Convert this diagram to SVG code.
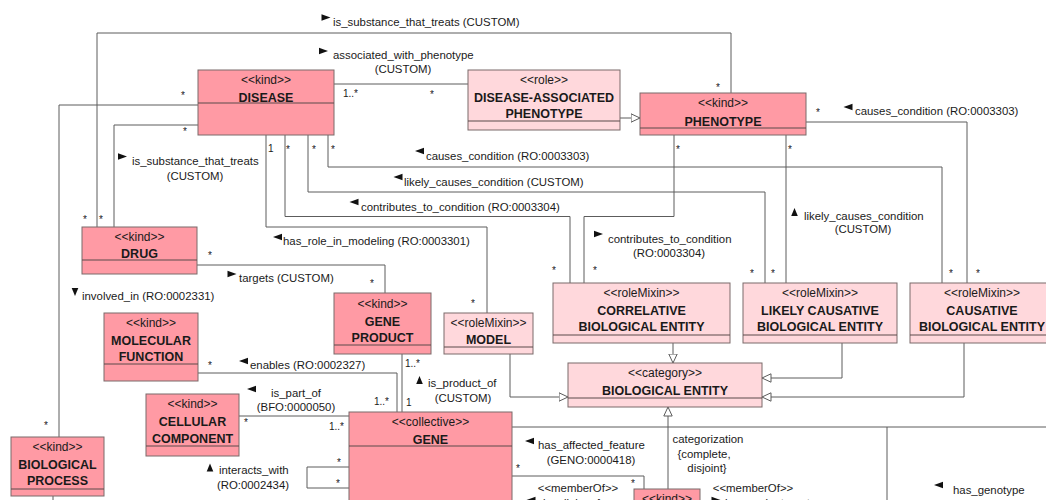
<svg xmlns="http://www.w3.org/2000/svg" xmlns:xlink="http://www.w3.org/1999/xlink" width="1046" height="500" viewBox="0 0 1046 500">
  <style>
    .kind { fill: #ff9aa4; stroke: #7a6a6a; stroke-width: 1; }
    .mix { fill: #ffd8dc; stroke: #7a6a6a; stroke-width: 1; }
    .div { stroke: #5a4a4a; stroke-width: 1; }
    .ln { fill: none; stroke: #5c5c5c; stroke-width: 1; }
    .gen { fill: none; stroke: #5c5c5c; stroke-width: 1; marker-end: url(#hollow); }
    text { font-family: "Liberation Sans", Arial, sans-serif; fill: #1a1a1a; }
    .ster { font-size: 12px; text-anchor: middle; }
    .name { font-size: 12.5px; font-weight: bold; text-anchor: middle; }
    .lbl { font-size: 11.4px; }
    .lblc { font-size: 11.4px; text-anchor: middle; }
    .mul { font-size: 10px; }
    .tri { fill: #111; }
  </style>
  <defs>
    <marker id="hollow" viewBox="0 0 10 10" refX="9.5" refY="5" markerWidth="10" markerHeight="10" markerUnits="userSpaceOnUse" orient="auto">
      <path d="M0.5,0.8 L9.5,5 L0.5,9.2 Z" fill="#fff" stroke="#5c5c5c" stroke-width="1"/>
    </marker>
    <path id="tR" d="M-4.5,-3.3 L4.5,0 L-4.5,3.3 Z"/>
    <path id="tL" d="M4.5,-3.3 L-4.5,0 L4.5,3.3 Z"/>
    <path id="tU" d="M-3.3,4 L0,-4 L3.3,4 Z"/>
    <path id="tD" d="M-3.3,-4 L0,4 L3.3,-4 Z"/>
  </defs>

  <rect width="1046" height="500" fill="#ffffff"/>

  <!-- connectors -->
  <g id="connectors">
    <!-- is_substance_that_treats: DRUG to PHENOTYPE -->
    <polyline class="ln" points="97,227 97,33 731,33 731,93"/>
    <!-- is_substance_that_treats: DRUG to DISEASE -->
    <polyline class="ln" points="198,125 114,125 114,227"/>
    <!-- involved_in -->
    <polyline class="ln" points="198,105 59,105 59,437"/>
    <!-- associated_with_phenotype -->
    <line class="ln" x1="334" y1="84" x2="468" y2="84"/>
    <!-- DISEASE bottom fan-out -->
    <polyline class="ln" points="328,135 328,167 942,167 942,283"/>
    <polyline class="ln" points="308,135 308,192 765,192 765,283"/>
    <polyline class="ln" points="285,135 285,216.5 570,216.5 570,283"/>
    <polyline class="ln" points="266,135 266,227 487,227 487,313"/>
    <!-- PHENOTYPE relations -->
    <polyline class="ln" points="806,122 967,122 967,283"/>
    <line class="ln" x1="786" y1="135" x2="786" y2="283"/>
    <polyline class="ln" points="674,135 674,216.5 584,216.5 584,283"/>
    <!-- targets -->
    <polyline class="ln" points="197,265 385,265 385,293"/>
    <!-- enables -->
    <polyline class="ln" points="198,373 397,373 397,412"/>
    <!-- is_product_of -->
    <line class="ln" x1="402" y1="354" x2="402" y2="412"/>
    <!-- is_part_of -->
    <line class="ln" x1="239" y1="416" x2="349" y2="416"/>
    <!-- interacts_with self association -->
    <polyline class="ln" points="349,467 307,467 307,488 349,488"/>
    <!-- has_affected_feature -->
    <polyline class="ln" points="512,476 644,476 644,489"/>
    <!-- BIOLOGICAL PROCESS downward link -->
    <line class="ln" x1="53" y1="496" x2="53" y2="500"/>

    <!-- generalizations -->
    <polyline class="gen" points="620,118 640,118"/>
    <polyline class="gen" points="510,354 510,397 568,397"/>
    <polyline class="gen" points="673,343 673,363"/>
    <polyline class="gen" points="842,343 842,378 762,378"/>
    <polyline class="gen" points="964,343 964,397 762,397"/>
    <polyline class="gen" points="668,489 668,407"/>
    <line class="ln" x1="512" y1="427" x2="1046" y2="427"/>
    <line class="ln" x1="887" y1="427" x2="887" y2="500"/>

    <!-- association labels -->
    <use href="#tR" class="tri" x="326" y="17.5"/>
    <text class="lbl" x="333" y="26">is_substance_that_treats (CUSTOM)</text>

    <use href="#tR" class="tri" x="323.5" y="51"/>
    <text class="lbl" x="333" y="59">associated_with_phenotype</text>
    <text class="lblc" x="403" y="73">(CUSTOM)</text>

    <use href="#tL" class="tri" x="419.5" y="151"/>
    <text class="lbl" x="426" y="160">causes_condition (RO:0003303)</text>

    <use href="#tL" class="tri" x="398" y="177"/>
    <text class="lbl" x="404" y="186">likely_causes_condition (CUSTOM)</text>

    <use href="#tL" class="tri" x="354" y="202"/>
    <text class="lbl" x="361" y="211">contributes_to_condition (RO:0003304)</text>

    <use href="#tL" class="tri" x="277.5" y="237"/>
    <text class="lbl" x="283" y="245">has_role_in_modeling (RO:0003301)</text>

    <use href="#tR" class="tri" x="122.5" y="156.5"/>
    <text class="lbl" x="132" y="165">is_substance_that_treats</text>
    <text class="lblc" x="195" y="180">(CUSTOM)</text>

    <use href="#tD" class="tri" x="75" y="292"/>
    <text class="lbl" x="82" y="300">involved_in (RO:0002331)</text>

    <use href="#tR" class="tri" x="232" y="274"/>
    <text class="lbl" x="239" y="282">targets (CUSTOM)</text>

    <use href="#tL" class="tri" x="243.5" y="361"/>
    <text class="lbl" x="250" y="369">enables (RO:0002327)</text>

    <use href="#tL" class="tri" x="251.5" y="389"/>
    <text class="lblc" x="296" y="397">is_part_of</text>
    <text class="lblc" x="296" y="411">(BFO:0000050)</text>

    <use href="#tU" class="tri" x="210" y="467.5"/>
    <text class="lbl" x="219" y="474">interacts_with</text>
    <text class="lblc" x="253" y="489">(RO:0002434)</text>

    <use href="#tU" class="tri" x="419.5" y="380"/>
    <text class="lbl" x="428" y="387">is_product_of</text>
    <text class="lblc" x="463" y="402">(CUSTOM)</text>

    <use href="#tR" class="tri" x="598.5" y="234"/>
    <text class="lbl" x="608" y="243">contributes_to_condition</text>
    <text class="lblc" x="669" y="257">(RO:0003304)</text>

    <use href="#tU" class="tri" x="794.5" y="212"/>
    <text class="lbl" x="804" y="220">likely_causes_condition</text>
    <text class="lblc" x="863" y="233">(CUSTOM)</text>

    <use href="#tL" class="tri" x="848" y="107"/>
    <text class="lbl" x="855" y="115">causes_condition (RO:0003303)</text>

    <use href="#tL" class="tri" x="529.5" y="441"/>
    <text class="lbl" x="538" y="449">has_affected_feature</text>
    <text class="lblc" x="591" y="464">(GENO:0000418)</text>

    <text class="lblc" x="708" y="443">categorization</text>
    <text class="lblc" x="704" y="458">{complete,</text>
    <text class="lblc" x="707" y="472">disjoint}</text>

    <text class="lblc" x="578" y="492">&lt;&lt;memberOf&gt;&gt;</text>
    <use href="#tL" class="tri" x="531" y="500"/>
    <text class="lbl" x="543" y="507">is_allele_of</text>

    <text class="lblc" x="753" y="492">&lt;&lt;memberOf&gt;&gt;</text>
    <use href="#tR" class="tri" x="716" y="500"/>
    <text class="lbl" x="725" y="507">has_variant_part</text>

    <use href="#tL" class="tri" x="938.5" y="485"/>
    <text class="lbl" x="953" y="494">has_genotype</text>
    <text class="lblc" x="988" y="508">(GENO:0000222)</text>

    <!-- multiplicities -->
    <text class="mul" x="716" y="91">*</text>
    <text class="mul" x="83" y="223">*</text>
    <text class="mul" x="99" y="223">*</text>
    <text class="mul" x="183" y="135">*</text>
    <text class="mul" x="181" y="99">*</text>
    <text class="mul" x="44" y="429">*</text>
    <text class="mul" x="343" y="97">1..*</text>
    <text class="mul" x="430" y="98">*</text>
    <text class="mul" x="268" y="152">1</text>
    <text class="mul" x="286" y="153">*</text>
    <text class="mul" x="312" y="153">*</text>
    <text class="mul" x="331" y="153">*</text>
    <text class="mul" x="949" y="277">*</text>
    <text class="mul" x="976" y="277">*</text>
    <text class="mul" x="816" y="116">*</text>
    <text class="mul" x="750" y="277">*</text>
    <text class="mul" x="771" y="277">*</text>
    <text class="mul" x="788" y="153">*</text>
    <text class="mul" x="552" y="274">*</text>
    <text class="mul" x="593" y="274">*</text>
    <text class="mul" x="676" y="153">*</text>
    <text class="mul" x="471" y="307">*</text>
    <text class="mul" x="208" y="259">*</text>
    <text class="mul" x="370" y="287">*</text>
    <text class="mul" x="208" y="369">*</text>
    <text class="mul" x="374" y="405">1..*</text>
    <text class="mul" x="405" y="367">1..*</text>
    <text class="mul" x="406" y="406">1</text>
    <text class="mul" x="244" y="426">*</text>
    <text class="mul" x="329" y="430">1..*</text>
    <text class="mul" x="337" y="466">*</text>
    <text class="mul" x="336" y="487">*</text>
    <text class="mul" x="516" y="472">*</text>
    <text class="mul" x="631" y="487">*</text>
  </g>

  <!-- classes -->
  <g id="disease">
    <rect class="kind" x="198" y="70" width="136" height="65"/>
    <line class="div" x1="198" y1="103" x2="334" y2="103"/>
    <text class="ster" x="266" y="83.5">&lt;&lt;kind&gt;&gt;</text>
    <text class="name" x="266" y="101.5">DISEASE</text>
  </g>

  <g id="disease-associated-phenotype">
    <rect class="mix" x="468" y="70" width="152" height="60"/>
    <line class="div" x1="468" y1="121" x2="620" y2="121"/>
    <text class="ster" x="544" y="84">&lt;&lt;role&gt;&gt;</text>
    <text class="name" x="544" y="101.5">DISEASE-ASSOCIATED</text>
    <text class="name" x="544" y="118">PHENOTYPE</text>
  </g>

  <g id="phenotype">
    <rect class="kind" x="640" y="93" width="166" height="42"/>
    <line class="div" x1="640" y1="128" x2="806" y2="128"/>
    <text class="ster" x="723" y="107">&lt;&lt;kind&gt;&gt;</text>
    <text class="name" x="723" y="125.5">PHENOTYPE</text>
  </g>

  <g id="drug">
    <rect class="kind" x="82" y="227" width="115" height="47"/>
    <line class="div" x1="82" y1="260" x2="197" y2="260"/>
    <text class="ster" x="139.5" y="240.5">&lt;&lt;kind&gt;&gt;</text>
    <text class="name" x="139.5" y="258">DRUG</text>
  </g>

  <g id="molecular-function">
    <rect class="kind" x="104" y="313" width="94" height="68"/>
    <line class="div" x1="104" y1="364" x2="198" y2="364"/>
    <text class="ster" x="151" y="327">&lt;&lt;kind&gt;&gt;</text>
    <text class="name" x="151" y="344.5">MOLECULAR</text>
    <text class="name" x="151" y="361">FUNCTION</text>
  </g>

  <g id="cellular-component">
    <rect class="kind" x="146" y="394" width="93" height="62"/>
    <line class="div" x1="146" y1="446" x2="239" y2="446"/>
    <text class="ster" x="192.5" y="408">&lt;&lt;kind&gt;&gt;</text>
    <text class="name" x="192.5" y="426">CELLULAR</text>
    <text class="name" x="192.5" y="442.5">COMPONENT</text>
  </g>

  <g id="biological-process">
    <rect class="kind" x="11" y="437" width="93" height="59"/>
    <line class="div" x1="11" y1="489" x2="104" y2="489"/>
    <text class="ster" x="57.5" y="451">&lt;&lt;kind&gt;&gt;</text>
    <text class="name" x="57.5" y="469">BIOLOGICAL</text>
    <text class="name" x="57.5" y="485">PROCESS</text>
  </g>

  <g id="gene-product">
    <rect class="kind" x="334" y="293" width="97" height="61"/>
    <line class="div" x1="334" y1="345" x2="431" y2="345"/>
    <text class="ster" x="382.5" y="307.5">&lt;&lt;kind&gt;&gt;</text>
    <text class="name" x="382.5" y="325.5">GENE</text>
    <text class="name" x="382.5" y="342">PRODUCT</text>
  </g>

  <g id="model">
    <rect class="mix" x="444" y="313" width="89" height="41"/>
    <line class="div" x1="444" y1="347" x2="533" y2="347"/>
    <text class="ster" x="488.5" y="327">&lt;&lt;roleMixin&gt;&gt;</text>
    <text class="name" x="488.5" y="343.5">MODEL</text>
  </g>

  <g id="correlative-biological-entity">
    <rect class="mix" x="553" y="283" width="177" height="60"/>
    <line class="div" x1="553" y1="335" x2="730" y2="335"/>
    <text class="ster" x="641.5" y="297">&lt;&lt;roleMixin&gt;&gt;</text>
    <text class="name" x="641.5" y="314.5">CORRELATIVE</text>
    <text class="name" x="641.5" y="331">BIOLOGICAL ENTITY</text>
  </g>

  <g id="likely-causative-biological-entity">
    <rect class="mix" x="743" y="283" width="154" height="60"/>
    <line class="div" x1="743" y1="335" x2="897" y2="335"/>
    <text class="ster" x="820" y="297">&lt;&lt;roleMixin&gt;&gt;</text>
    <text class="name" x="820" y="314.5">LIKELY CAUSATIVE</text>
    <text class="name" x="820" y="331">BIOLOGICAL ENTITY</text>
  </g>

  <g id="causative-biological-entity">
    <rect class="mix" x="910" y="283" width="146" height="60"/>
    <line class="div" x1="910" y1="335" x2="1056" y2="335"/>
    <text class="ster" x="982" y="297">&lt;&lt;roleMixin&gt;&gt;</text>
    <text class="name" x="982" y="314.5">CAUSATIVE</text>
    <text class="name" x="982" y="331">BIOLOGICAL ENTITY</text>
  </g>

  <g id="biological-entity">
    <rect class="mix" x="568" y="363" width="194" height="44"/>
    <line class="div" x1="568" y1="398" x2="762" y2="398"/>
    <text class="ster" x="665" y="377">&lt;&lt;category&gt;&gt;</text>
    <text class="name" x="665" y="394.5">BIOLOGICAL ENTITY</text>
  </g>

  <g id="gene">
    <rect class="kind" x="349" y="412" width="163" height="100"/>
    <line class="div" x1="349" y1="446" x2="512" y2="446"/>
    <text class="ster" x="430.5" y="426">&lt;&lt;collective&gt;&gt;</text>
    <text class="name" x="430.5" y="443.5">GENE</text>
  </g>

  <g id="variant-kind">
    <rect class="kind" x="634" y="489" width="66" height="30"/>
    <text class="ster" x="667" y="503">&lt;&lt;kind&gt;&gt;</text>
  </g>
</svg>
